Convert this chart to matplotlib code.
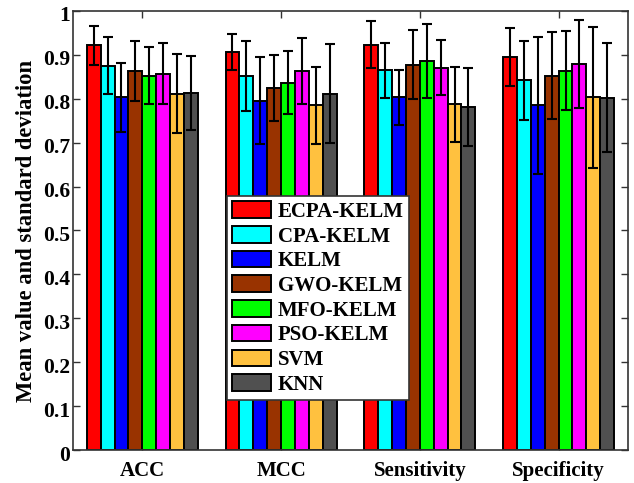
import matplotlib
matplotlib.use("Agg")
import matplotlib.pyplot as plt
import matplotlib.transforms as mtransforms
import numpy as np

metrics = ["ACC", "MCC", "Sensitivity", "Specificity"]
methods = ["ECPA-KELM", "CPA-KELM", "KELM", "GWO-KELM", "MFO-KELM", "PSO-KELM", "SVM", "KNN"]
colors = ["#FF0000", "#00FFFF", "#0000FF", "#993300", "#00FF00", "#FF00FF", "#FFC13F", "#505050"]

# mean values per method, one per metric
means = {
    "ECPA-KELM": [0.922, 0.906, 0.923, 0.896],
    "CPA-KELM":  [0.875, 0.852, 0.865, 0.842],
    "KELM":      [0.803, 0.796, 0.803, 0.785],
    "GWO-KELM":  [0.864, 0.825, 0.878, 0.853],
    "MFO-KELM":  [0.853, 0.837, 0.886, 0.864],
    "PSO-KELM":  [0.857, 0.863, 0.871, 0.879],
    "SVM":       [0.812, 0.785, 0.787, 0.803],
    "KNN":       [0.814, 0.812, 0.782, 0.802],
}
stds = {
    "ECPA-KELM": [0.044, 0.041, 0.054, 0.066],
    "CPA-KELM":  [0.065, 0.079, 0.063, 0.090],
    "KELM":      [0.079, 0.099, 0.063, 0.156],
    "GWO-KELM":  [0.068, 0.075, 0.079, 0.100],
    "MFO-KELM":  [0.065, 0.071, 0.085, 0.090],
    "PSO-KELM":  [0.069, 0.076, 0.063, 0.101],
    "SVM":       [0.089, 0.087, 0.085, 0.161],
    "KNN":       [0.084, 0.113, 0.089, 0.124],
}
ytick_vals = [0, 0.1, 0.2, 0.3, 0.4, 0.5, 0.6, 0.7, 0.8, 0.9, 1]
ytick_labels = ["0", "0.1", "0.2", "0.3", "0.4", "0.5", "0.6", "0.7", "0.8", "0.9", "1"]

plt.rcParams['font.family'] = ['Liberation Serif', 'DejaVu Serif']
plt.rcParams['font.weight'] = 'bold'

fig = plt.figure(figsize=(6.34, 4.83), dpi=100)
ax = fig.add_axes([0.115, 0.0683, 0.8755, 0.909])

x = np.arange(1, len(metrics) + 1)
n = len(methods)
w = 0.1
for i, m in enumerate(methods):
    pos = x + (i - (n - 1) / 2) * w
    ax.bar(pos, means[m], width=w, color=colors[i], edgecolor='black',
           linewidth=1.4, label=m, zorder=2)
    ax.errorbar(pos, means[m], yerr=stds[m], fmt='none', ecolor='black',
                elinewidth=1.5, capsize=3.5, capthick=1.5, zorder=3)

ax.set_xlim(0.5, 4.5)
ax.set_ylim(0, 1)
ax.set_yticks(ytick_vals)
ax.set_yticklabels(ytick_labels)
ax.set_xticks(x)
ax.set_xticklabels(metrics)
ax.tick_params(axis='both', direction='in', top=True, right=True,
               length=5, width=1, color='#333333')
ax.tick_params(axis='x', pad=8, labelsize=15)
ax.tick_params(axis='y', pad=2, labelsize=15.5)
for lab in ax.get_xticklabels() + ax.get_yticklabels():
    lab.set_fontweight('bold')
off = mtransforms.ScaledTranslation(0, -3 / 100, fig.dpi_scale_trans)
for lab in ax.get_yticklabels():
    lab.set_transform(lab.get_transform() + off)
for s in ax.spines.values():
    s.set_color('#333333')
    s.set_linewidth(1.2)

ax.set_ylabel("Mean value and standard deviation", fontsize=16.3, fontweight='bold', labelpad=4)

leg = ax.legend(loc='lower left', bbox_to_anchor=(0.277, 0.114), prop={'weight': 'bold', 'size': 15},
                frameon=True, fancybox=False, edgecolor='#333333', framealpha=1,
                handlelength=1.9, handleheight=0.85, labelspacing=0.2, borderpad=0.25,
                handletextpad=0.3, borderaxespad=0)
leg.get_frame().set_linewidth(1.2)

fig.savefig("out.png", dpi=100)
